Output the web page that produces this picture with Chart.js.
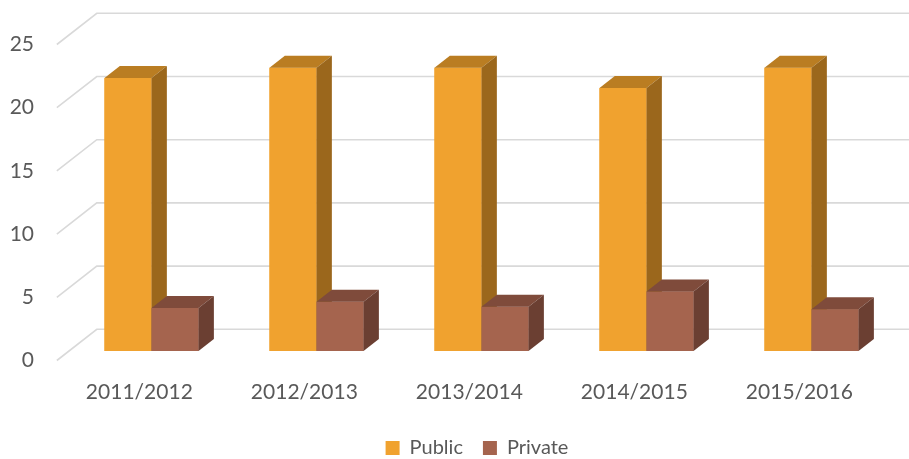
<!DOCTYPE html>
<html>
<head>
<meta charset="utf-8">
<script src="https://cdn.jsdelivr.net/npm/chart.js@4.4.1/dist/chart.umd.min.js"></script>
<style>
  body { margin: 0; background: #fff; }
  #wrap { width: 909px; height: 459px; }
</style>
</head>
<body>
<div id="wrap"><canvas id="schoolChart"></canvas></div>
<script>
var years = ['2011/2012', '2012/2013', '2013/2014', '2014/2015', '2015/2016'];
var publicValues = [21.6, 22.4, 22.4, 20.8, 22.4];
var privateValues = [3.4, 3.9, 3.5, 4.7, 3.3];
var yTicks = [0, 5, 10, 15, 20, 25];

// fake 3d: offsets measured from the bar front plane
var SLANT = 1.28;
var WALL_FRONT = -9.5, BAR_DEPTH = 12, WALL_BACK = 21.7;
var LEGEND_SHIFT = 30;
var textColor = '#595959';

function depthX(d) { return d * SLANT; }

var threeD = {
    id: 'threeD',
    afterLayout: function (chart) {
        // legend sits a bit right of the canvas centre
        chart.legend.left += LEGEND_SHIFT;
        chart.legend.right += LEGEND_SHIFT;
    },
    beforeDatasetsDraw: function (chart) {
        var ctx = chart.ctx, area = chart.chartArea, y = chart.scales.y;
        ctx.save();
        ctx.strokeStyle = '#d9d9d9';
        ctx.lineWidth = 1.6;
        yTicks.forEach(function (v) {
            var py = y.getPixelForValue(v);
            var fx = area.left + depthX(WALL_FRONT), fy = py - WALL_FRONT;
            var bx = area.left + depthX(WALL_BACK), by = py - WALL_BACK;
            ctx.beginPath();
            ctx.moveTo(fx, fy);
            ctx.lineTo(bx, by);
            ctx.lineTo(chart.width, by);
            ctx.stroke();
        });
        ctx.restore();
    },
    afterDatasetsDraw: function (chart) {
        // chart.js paints the last dataset first, so redo the boxes left to right
        var ctx = chart.ctx;
        var dx = depthX(BAR_DEPTH), dy = -BAR_DEPTH;
        ctx.save();
        chart.data.datasets.forEach(function (ds, i) {
            chart.getDatasetMeta(i).data.forEach(function (bar) {
                var l = bar.x - bar.width / 2, r = bar.x + bar.width / 2;
                var t = bar.y, b = bar.base;
                bar.draw(ctx);
                // top face
                ctx.fillStyle = ds.topColor;
                ctx.beginPath();
                ctx.moveTo(l, t); ctx.lineTo(r, t); ctx.lineTo(r + dx, t + dy); ctx.lineTo(l + dx, t + dy);
                ctx.closePath(); ctx.fill();
                // side face
                ctx.fillStyle = ds.sideColor;
                ctx.beginPath();
                ctx.moveTo(r, t); ctx.lineTo(r + dx, t + dy); ctx.lineTo(r + dx, b + dy); ctx.lineTo(r, b);
                ctx.closePath(); ctx.fill();
            });
        });
        ctx.restore();
    }
};

var ctx = document.getElementById('schoolChart').getContext('2d');
new Chart(ctx, {
    type: 'bar',
    data: {
        labels: years,
        datasets: [{
            label: 'Public',
            data: publicValues,
            backgroundColor: '#f0a22f',
            topColor: '#ba7d22',
            sideColor: '#9b671c',
            barPercentage: 1,
            categoryPercentage: 0.57
        }, {
            label: 'Private',
            data: privateValues,
            backgroundColor: '#a5644e',
            topColor: '#7f4b3b',
            sideColor: '#6b3f32',
            barPercentage: 1,
            categoryPercentage: 0.57
        }]
    },
    options: {
        responsive: true,
        maintainAspectRatio: false,
        animation: false,
        layout: { padding: { left: 0, right: 15, top: 35, bottom: -9 } },
        plugins: {
            tooltip: { enabled: false },
            legend: {
                position: 'bottom',
                labels: {
                    boxWidth: 14, boxHeight: 14, padding: 20,
                    color: textColor,
                    font: { family: 'Lato', size: 20 }
                }
            }
        },
        scales: {
            x: {
                grid: { display: false, drawTicks: false },
                border: { display: false },
                ticks: {
                    color: textColor, padding: 29, labelOffset: depthX(WALL_FRONT),
                    maxRotation: 0, font: { family: 'Lato', size: 21 }
                },
                afterFit: function (s) { s.height = 67; }
            },
            y: {
                min: 0, max: 25,
                grid: { display: false, drawTicks: false },
                border: { display: false },
                ticks: {
                    color: textColor, padding: 35, labelOffset: -WALL_FRONT,
                    font: { family: 'Lato', size: 21 }
                },
                afterBuildTicks: function (s) { s.ticks = yTicks.map(function (v) { return { value: v }; }); },
                afterFit: function (s) { s.width = 69; s.paddingTop = 0; s.paddingBottom = 0; }
            }
        }
    },
    plugins: [threeD]
});
</script>
</body>
</html>
